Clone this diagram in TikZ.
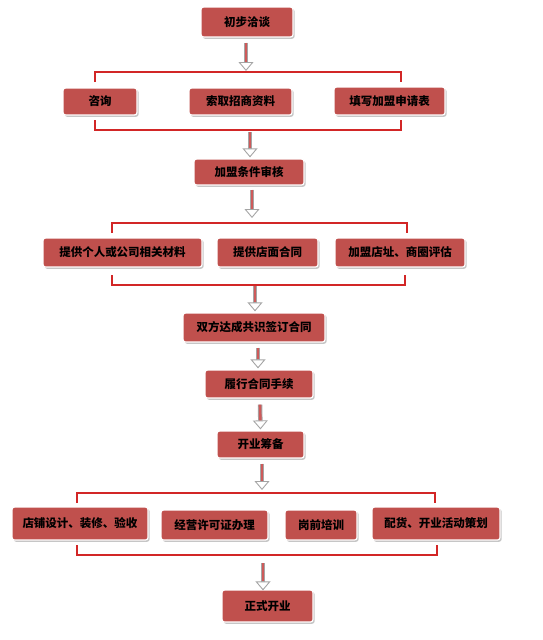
\documentclass[tikz,border=0pt]{standalone}
\usepackage{fontspec}
\newfontfamily\cjk{Noto Sans CJK SC}
\usetikzlibrary{arrows.meta,shadows,calc}
\definecolor{boxred}{RGB}{192,80,77}
\definecolor{brkred}{RGB}{210,38,38}
\definecolor{arrgray}{RGB}{165,165,165}
\definecolor{shaftred}{RGB}{205,90,90}
\tikzset{
  stage/.style={rectangle, rounded corners=2.5pt, fill=boxred, draw=white, line width=1.2pt,
    drop shadow={shadow xshift=1.6pt, shadow yshift=-1.8pt, fill=black!28, opacity=0.8},
    font=\cjk\bfseries\fontsize{11.5}{13}\selectfont, text=black, inner sep=0pt,
    anchor=center},
  brk/.style={draw=brkred, line width=1.1pt},
  arrowout/.style={draw=arrgray, line width=4.5pt,
    -{Triangle[width=15pt,length=9pt,line width=0.9pt,fill=white,color=arrgray]}},
  arrowin/.style={draw=shaftred, line width=2.6pt, shorten >=9pt},
}
\newcommand\flowarrow[2]{\draw[arrowout] (#1) -- (#2); \draw[arrowin] (#1) -- (#2);}
\begin{document}
\begin{tikzpicture}[x=1pt,y=-1pt]
\useasboundingbox (0,0) rectangle (543,640);
% boxes
\node[stage, minimum width=92pt, minimum height=30pt] (A) at (247,22) {初步洽谈};
\node[stage, minimum width=74pt, minimum height=27pt] (B1) at (100,101.5) {咨询};
\node[stage, minimum width=103pt, minimum height=27pt] (B2) at (240.5,101.5) {索取招商资料};
\node[stage, minimum width=111pt, minimum height=28pt] (B3) at (389.5,101) {填写加盟申请表};
\node[stage, minimum width=110pt, minimum height=26pt] (C) at (249,172) {加盟条件审核};
\node[stage, minimum width=159pt, minimum height=29pt] (D1) at (122.5,252.5) {提供个人或公司相关材料};
\node[stage, minimum width=101pt, minimum height=29pt] (D2) at (267.5,252.5) {提供店面合同};
\node[stage, minimum width=130pt, minimum height=29pt] (D3) at (400,252.5) {加盟店址、商圈评估};
\node[stage, minimum width=142pt, minimum height=29pt] (E) at (254,327.5) {双方达成共识签订合同};
\node[stage, minimum width=108pt, minimum height=28pt] (F) at (259,384) {履行合同手续};
\node[stage, minimum width=87pt, minimum height=27pt] (G) at (260.5,444.5) {开业筹备};
\node[stage, minimum width=136pt, minimum height=33pt] (H1) at (80,523.5) {店铺设计、装修、验收};
\node[stage, minimum width=107pt, minimum height=30pt] (H2) at (214.5,525) {经营许可证办理};
\node[stage, minimum width=72pt, minimum height=30pt] (H3) at (321,525) {岗前培训};
\node[stage, minimum width=128pt, minimum height=33pt] (H4) at (436,523.5) {配货、开业活动策划};
\node[stage, minimum width=91pt, minimum height=32pt] (I) at (267.5,606) {正式开业};
% bracket coordinates
\coordinate (t1l) at (95,82);  \coordinate (t1r) at (401,82);
\coordinate (u1l) at (95,120); \coordinate (u1r) at (401,120);
\coordinate (t2l) at (112,233); \coordinate (t2r) at (407,233);
\coordinate (u2l) at (112,275); \coordinate (u2r) at (405,275);
\coordinate (t3l) at (77,503);  \coordinate (t3r) at (435,503);
\coordinate (u3l) at (77,545);  \coordinate (u3r) at (437,545);
\draw[brk] (t1l) -- ++(0,-10) -| (t1r);
\draw[brk] (u1l) -- ++(0,10) -| (u1r);
\draw[brk] (t2l) -- ++(0,-10) -| (t2r);
\draw[brk] (u2l) -- ++(0,10) -| (u2r);
\draw[brk] (t3l) -- ++(0,-10) -| (t3r);
\draw[brk] (u3l) -- ++(0,10) -| (u3r);
% arrow end points
\coordinate (a1e) at (246,71);
\coordinate (a2s) at (250,132);
\coordinate (a3e) at (252,218);
\coordinate (a4s) at (255,286);
\coordinate (a7e) at (262,490);
\coordinate (a8s) at (263,563);
% arrows
\flowarrow{[xshift=-1pt,yshift=-5pt]A.south}{a1e}
\flowarrow{a2s}{[xshift=1pt,yshift=1pt]C.north}
\flowarrow{[xshift=3pt,yshift=-4pt]C.south}{a3e}
\flowarrow{a4s}{[xshift=1pt,yshift=1pt]E.north}
\flowarrow{[xshift=4pt,yshift=-5pt]E.south}{[xshift=-1pt,yshift=1pt]F.north}
\flowarrow{[xshift=1pt,yshift=-6pt]F.south}{[xshift=0pt,yshift=1pt]G.north}
\flowarrow{[xshift=1.5pt,yshift=-5pt]G.south}{a7e}
\flowarrow{a8s}{[xshift=-4.5pt,yshift=-1pt]I.north}
\end{tikzpicture}
\end{document}
